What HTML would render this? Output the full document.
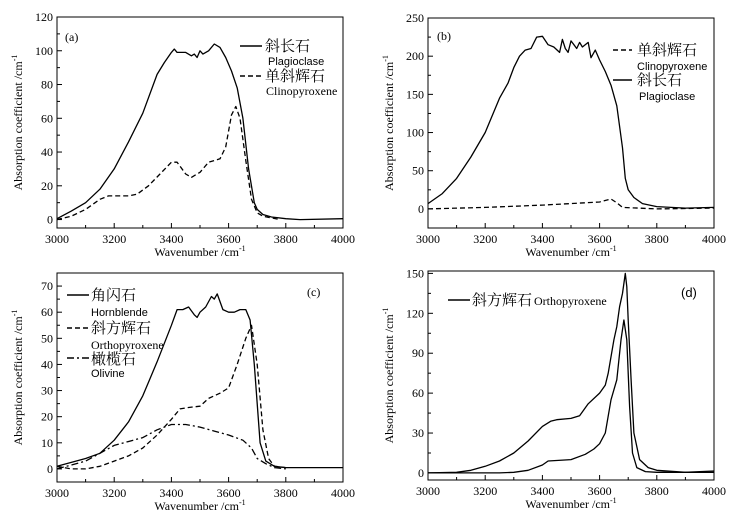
<!DOCTYPE html>
<html><head><meta charset="utf-8"><style>
html,body{margin:0;padding:0;background:#fff;}
svg{display:block;font-family:"Liberation Serif","Noto Serif CJK SC",serif;}
</style></head><body>
<svg id="fig" width="742" height="519" viewBox="0 0 742 519"></svg>
<script>
// Panel a
const aPlagX=[3000,3050,3100,3150,3200,3250,3300,3350,3375,3400,3410,3420,3450,3470,3480,3490,3500,3510,3530,3550,3570,3590,3610,3630,3650,3670,3690,3700,3720,3750,3800,3850,4000];
const aPlagY=[0.5,5,10,18,30,46,63,86,93,99,101,99,99,97,98,96,100,98,100,104,102,96,88,78,60,30,10,6,3,1.5,0.5,0,0.5];
const aCpxX=[3000,3050,3100,3150,3180,3250,3280,3320,3360,3400,3420,3450,3470,3500,3530,3570,3590,3610,3625,3640,3660,3680,3700,3720,3750,3780];
const aCpxY=[0,2,6,12,14,14,15,20,27,34,34,27,25,28,34,36,43,62,67,60,35,12,4,2,1,0];
// Panel b
const bPlagX=[3000,3050,3100,3150,3200,3250,3280,3300,3320,3340,3360,3380,3400,3420,3440,3460,3470,3480,3490,3500,3510,3520,3530,3540,3560,3570,3585,3600,3620,3640,3660,3680,3690,3700,3720,3750,3800,3900,4000];
const bPlagY=[7,20,40,68,100,145,165,185,200,208,210,225,226,215,212,205,222,210,205,220,215,210,218,212,218,198,208,195,180,162,135,80,40,25,15,7,3,1,2];
const bCpxX=[3000,3200,3400,3600,3640,3660,3680,3800,4000];
const bCpxY=[0,2,5,9,13,8,2,0,1];
// Panel c
const cHbX=[3000,3100,3150,3200,3250,3300,3350,3400,3420,3440,3460,3480,3490,3500,3520,3540,3550,3560,3580,3600,3620,3640,3660,3675,3690,3710,3730,3760,3800,4000];
const cHbY=[1,4,6,11,18,28,41,55,61,61,62,59,58,60,62,66,65,67,61,60,60,61,61,57,40,10,3,1,0.5,0.5];
const cOpxX=[3000,3050,3100,3150,3200,3250,3300,3350,3400,3430,3460,3500,3530,3570,3600,3630,3660,3680,3700,3720,3740,3760,3800];
const cOpxY=[1,0,0,1,3,5,8,13,19,23,23.5,24,27,29,31,40,50,55,40,15,4,1,0.5];
const cOlX=[3000,3100,3150,3200,3300,3350,3400,3450,3500,3550,3600,3650,3680,3700,3730,3760,3800];
const cOlY=[0,3,6,9,12,15,17,17,16,14.5,13,11,8,4,2,0.5,0];
// Panel d
const dUpX=[3000,3100,3150,3200,3250,3300,3350,3400,3430,3450,3500,3530,3560,3600,3620,3630,3650,3660,3670,3680,3690,3695,3700,3710,3720,3740,3770,3800,3900,4000];
const dUpY=[0,0.5,2,5,9,15,24,35,39,40,41,43,52,60,66,75,100,110,125,135,150,140,115,70,30,10,4,2,0.5,1.5];
const dLoX=[3000,3250,3300,3350,3400,3420,3500,3550,3580,3600,3620,3640,3660,3675,3685,3695,3705,3715,3730,3760,3800,4000];
const dLoY=[0,0,0.5,2,6,9,10,14,18,22,30,55,70,100,115,100,50,15,4,1,0.5,0.5];

const xTicks=[3000,3200,3400,3600,3800,4000];
const aYTicks=[0,20,40,60,80,100,120];
const bYTicks=[0,50,100,150,200,250];
const cYTicks=[0,10,20,30,40,50,60,70];
const dYTicks=[0,30,60,90,120,150];

const NS="http://www.w3.org/2000/svg";
const svg=document.getElementById('fig');
function mk(tag,attrs,parent){const e=document.createElementNS(NS,tag);for(const k in attrs)e.setAttribute(k,attrs[k]);(parent||svg).appendChild(e);return e;}

function panel(id,L,R,T,B,ymin,ymax,yTicks,yMinorStep){
  const g=mk('g',{});
  
  
  const sx=v=>L+(v-3000)/1000*(R-L);
  const sy=v=>B-(v-ymin)/(ymax-ymin)*(B-T);
  const fr=mk('rect',{x:L,y:T,width:R-L,height:B-T,fill:'none',stroke:'#000','stroke-width':1},g);
  
  
  for(let v=3000;v<=4000;v+=100){
    const major=(v%200===0);
    const t=mk('line',{x1:sx(v),x2:sx(v),y1:B,y2:B-(major?5:3),stroke:'#000'},g);
    
    
  }
  xTicks.forEach(v=>{
    const t=mk('text',{x:sx(v),y:B+15,'text-anchor':'middle','font-size':12},g);
    t.textContent=v;
    
    
  });
  for(let v=yTicks[0];v<=ymax+0.001;v+=yMinorStep){
    const major=yTicks.some(k=>Math.abs(k-v)<0.01);
    const t=mk('line',{x1:L,x2:L+(major?5:3),y1:sy(v),y2:sy(v),stroke:'#000'},g);
    
    
  }
  yTicks.forEach(v=>{
    const t=mk('text',{x:L-4,y:sy(v)+4,'text-anchor':'end','font-size':12},g);
    t.textContent=v;
    
    
  });
  const xt=mk('text',{x:(L+R)/2,y:B+28,'text-anchor':'middle','font-size':12},g);
  xt.innerHTML='Wavenumber /cm<tspan dy="-5" font-size="8">-1</tspan>';
  
  
  const cx=L-35, cy=(T+B)/2;
  const yt=mk('text',{x:cx,y:cy,'text-anchor':'middle','font-size':12,transform:`rotate(-90 ${cx} ${cy})`},g);
  yt.innerHTML='Absorption coefficient /cm<tspan dy="-5" font-size="8">-1</tspan>';
  
  
  return {g,sx,sy};
}
function series(p,xs,ys,dash,name){
  const d=xs.map((x,i)=>(i?'L':'M')+p.sx(x).toFixed(1)+','+p.sy(ys[i]).toFixed(1)).join(' ');
  const e=mk('path',{d:d,fill:'none',stroke:'#000','stroke-width':1.3,'stroke-linejoin':'round','stroke-dasharray':dash||'none'},p.g);
  
  
}
function txt(p,x,y,s,size,name,sans){
  const t=mk('text',{x:x,y:y,'font-size':size},p.g);
  if(sans)t.setAttribute('font-family','"Liberation Sans",sans-serif');
  t.textContent=s;
  
  
}
function key(p,x1,x2,y,dash,name){
  const e=mk('line',{x1:x1,x2:x2,y1:y,y2:y,stroke:'#000','stroke-width':1.4,'stroke-dasharray':dash||'none'},p.g);
  
  
}
// a
const pa=panel('a',57,343,17,228,-5,120,aYTicks,10);
series(pa,aPlagX,aPlagY,null,'plagioclase-line');
series(pa,aCpxX,aCpxY,'5,3','clinopyroxene-line');
txt(pa,65,41,'(a)',12,'panel-label-a');
key(pa,240,262,46,null,'legend-key-plagioclase');
txt(pa,265,51,'斜长石',15,'legend-plagioclase-cn');
txt(pa,268,65,'Plagioclase',11,'legend-plagioclase-en',true);
key(pa,240,262,76,'5,3','legend-key-clinopyroxene');
txt(pa,265,81,'单斜辉石',15,'legend-clinopyroxene-cn');
txt(pa,266,95,'Clinopyroxene',12,'legend-clinopyroxene-en');
// b
const pb=panel('b',428,714,18,228,-25,250,bYTicks,25);
series(pb,bPlagX,bPlagY,null,'plagioclase-line');
series(pb,bCpxX,bCpxY,'5,3','clinopyroxene-line');
txt(pb,437,40,'(b)',12,'panel-label-b');
key(pb,613,632,50,'5,3','legend-key-clinopyroxene');
txt(pb,637,55,'单斜辉石',15,'legend-clinopyroxene-cn');
txt(pb,637,70,'Clinopyroxene',11,'legend-clinopyroxene-en',true);
key(pb,613,632,80,null,'legend-key-plagioclase');
txt(pb,637,85,'斜长石',15,'legend-plagioclase-cn');
txt(pb,639,100,'Plagioclase',11,'legend-plagioclase-en',true);
// c
const pc=panel('c',57,343,273,482,-5,75,cYTicks,5);
series(pc,cHbX,cHbY,null,'hornblende-line');
series(pc,cOpxX,cOpxY,'5,3','orthopyroxene-line');
series(pc,cOlX,cOlY,'7,3,2,3','olivine-line');
txt(pc,307,296,'(c)',12,'panel-label-c');
key(pc,67,89,295,null,'legend-key-hornblende');
txt(pc,91,300,'角闪石',15,'legend-hornblende-cn');
txt(pc,91,316,'Hornblende',11,'legend-hornblende-en',true);
key(pc,67,89,328,'5,3','legend-key-orthopyroxene');
txt(pc,91,333,'斜方辉石',15,'legend-orthopyroxene-cn');
txt(pc,91,349,'Orthopyroxene',12,'legend-orthopyroxene-en');
key(pc,67,89,358,'7,3,2,3','legend-key-olivine');
txt(pc,91,364,'橄榄石',15,'legend-olivine-cn');
txt(pc,91,377,'Olivine',11,'legend-olivine-en',true);
// d
const pd=panel('d',428,714,271,480,-5.3,151.8,dYTicks,15);
series(pd,dUpX,dUpY,null,'orthopyroxene-upper-line');
series(pd,dLoX,dLoY,null,'orthopyroxene-lower-line');
txt(pd,681,297,'(d)',13,'panel-label-d',true);
key(pd,448,470,300,null,'legend-key-orthopyroxene');
txt(pd,472,305,'斜方辉石',15,'legend-orthopyroxene-cn');
txt(pd,534,305,'Orthopyroxene',12,'legend-orthopyroxene-en');
</script>
</body></html>
